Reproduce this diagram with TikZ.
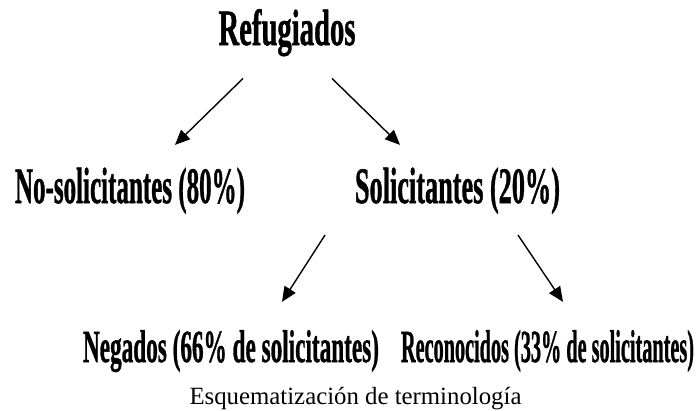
\documentclass[tikz,border=0pt]{standalone}
\usepackage{fontspec}
\setmainfont{Liberation Serif}
\newfontfamily\heavy[FakeBold=1.2]{Liberation Serif Bold}
\usepackage{graphicx}
\usetikzlibrary{arrows.meta}

% squeeze a label to a given width, height kept
\newcommand{\narrow}[2]{\resizebox{#1}{\height}{#2}}

\begin{document}
\begin{tikzpicture}[x=1pt,y=-1pt,
		lab/.style={font=\heavy\fontsize{51}{60}\selectfont, inner sep=0pt, anchor=base},
		sublab/.style={font=\heavy\fontsize{46}{54}\selectfont, inner sep=0pt, anchor=base},
		arr/.style={line width=1.4pt, -{Triangle[length=15pt,width=13pt]}}]
		\useasboundingbox (0,0) rectangle (696,410);

		\node[lab] (ref) at (287,45) {\narrow{137pt}{Refugiados}};

		\node[lab] (nosol) at (130,203) {\narrow{230pt}{No-solicitantes (80\%)}};
		\node[lab] (sol) at (457.5,203) {\narrow{205pt}{Solicitantes (20\%)}};

		\node[sublab] (neg) at (231,362) {\narrow{296pt}{Negados (66\% de solicitantes)}};
		\node[sublab] (rec) at (547.5,362) {\narrow{293pt}{Reconocidos (33\% de solicitantes)}};

		\draw[arr] ([shift={(-44,22)}]ref.south) -- ([shift={(45,-22.5)}]nosol.north);
		\draw[arr] ([shift={(45,22)}]ref.south) -- ([shift={(-57.5,-22.5)}]sol.north);
		\draw[arr] ([shift={(-132.5,21)}]sol.south) -- ([shift={(51,-28)}]neg.north);
		\draw[arr] ([shift={(60.5,21)}]sol.south) -- ([shift={(15.5,-28)}]rec.north);

		% add a text node CAPTION at the bottom
		\node[font=\fontsize{24.8}{28}\selectfont, inner sep=0pt, anchor=base] (cap) at (355.5,404) {Esquematización de terminología};
	\end{tikzpicture}
\end{document}
